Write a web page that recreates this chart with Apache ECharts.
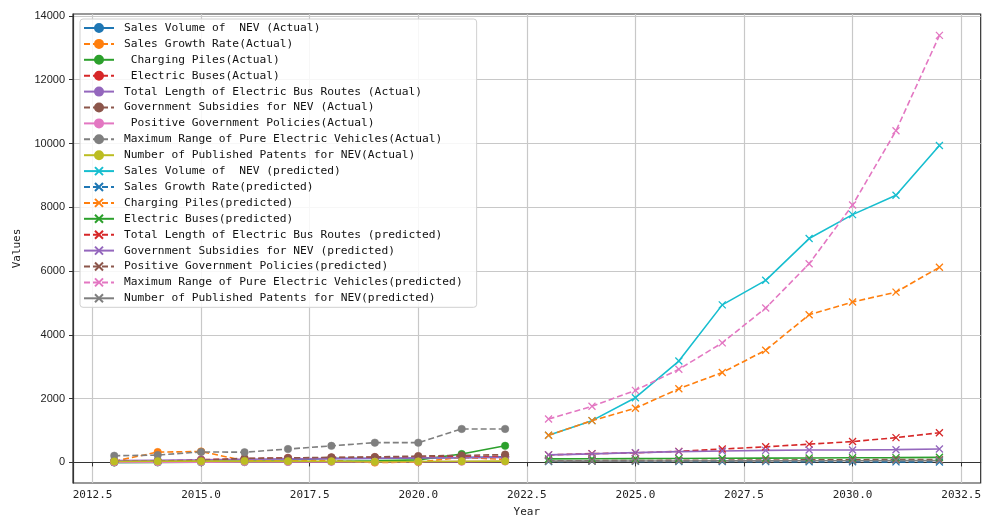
<!DOCTYPE html>
<html>
<head>
<meta charset="utf-8">
<title>NEV indicators: actual and predicted</title>
<script src="https://cdn.jsdelivr.net/npm/echarts@6/dist/echarts.min.js"></script>
<style>
  html, body { margin: 0; padding: 0; background: #ffffff; }
  #chart { width: 984px; height: 523px; }
</style>
</head>
<body>
<div id="chart"></div>
<script>
// Years covered by each half of the chart
const yearsActual = [2013, 2014, 2015, 2016, 2017, 2018, 2019, 2020, 2021, 2022];
const yearsPredicted = [2023, 2024, 2025, 2026, 2027, 2028, 2029, 2030, 2031, 2032];

// Observed indicators, 2013-2022
const salesVolumeActual   = [2, 7, 33, 51, 78, 126, 121, 137, 150, 180];
const salesGrowthActual   = [38, 324, 343, 53, 53, 62, -4, 11, 158, 93];
const chargingPilesActual = [1, 3, 7, 14, 21, 30, 52, 81, 262, 521];
const electricBusesActual = [15, 37, 88, 116, 140, 150, 160, 170, 180, 190];
const busRoutesActual     = [60, 70, 80, 100, 110, 120, 130, 140, 150, 155];
const subsidiesActual     = [30, 40, 60, 130, 140, 160, 170, 200, 220, 245];
const policiesActual      = [5, 8, 10, 12, 15, 18, 20, 22, 25, 28];
const maxRangeActual      = [210, 230, 330, 320, 420, 520, 620, 620, 1050, 1050];
const patentsActual       = [30, 35, 40, 45, 40, 35, 20, 30, 35, 40];

// Forecast indicators, 2023-2032
const salesVolumePredicted   = [850, 1310, 2030, 3180, 4940, 5710, 7020, 7770, 8380, 9940];
const salesGrowthPredicted   = [30, 40, 35, 30, 28, 25, 22, 20, 18, 16];
const chargingPilesPredicted = [850, 1310, 1700, 2310, 2820, 3520, 4630, 5030, 5340, 6120];
const electricBusesPredicted = [110, 115, 120, 125, 130, 135, 140, 145, 150, 160];
const busRoutesPredicted     = [236, 276, 300, 347, 420, 490, 573, 654, 777, 930];
const subsidiesPredicted     = [236, 267, 307, 338, 359, 378, 390, 392, 400, 420];
const policiesPredicted      = [50, 55, 60, 65, 70, 75, 80, 85, 90, 95];
const maxRangePredicted      = [1360, 1760, 2260, 2920, 3750, 4840, 6230, 8070, 10400, 13390];
const patentsPredicted       = [40, 42, 44, 46, 48, 50, 52, 54, 56, 58];

// Tick positions
const xTicks = [2012.5, 2015, 2017.5, 2020, 2022.5, 2025, 2027.5, 2030, 2032.5];
const yTicks = [0, 2000, 4000, 6000, 8000, 10000, 12000, 14000];

// Series names, in legend order
const actualNames = [
  'Sales Volume of  NEV (Actual)',
  'Sales Growth Rate(Actual)',
  ' Charging Piles(Actual)',
  ' Electric Buses(Actual)',
  'Total Length of Electric Bus Routes (Actual)',
  'Government Subsidies for NEV (Actual)',
  ' Positive Government Policies(Actual)',
  'Maximum Range of Pure Electric Vehicles(Actual)',
  'Number of Published Patents for NEV(Actual)'
];
const predictedNames = [
  'Sales Volume of  NEV (predicted)',
  'Sales Growth Rate(predicted)',
  'Charging Piles(predicted)',
  'Electric Buses(predicted)',
  'Total Length of Electric Bus Routes (predicted)',
  'Government Subsidies for NEV (predicted)',
  'Positive Government Policies(predicted)',
  'Maximum Range of Pure Electric Vehicles(predicted)',
  'Number of Published Patents for NEV(predicted)'
];
const actualValues = [salesVolumeActual, salesGrowthActual, chargingPilesActual, electricBusesActual,
  busRoutesActual, subsidiesActual, policiesActual, maxRangeActual, patentsActual];
const predictedValues = [salesVolumePredicted, salesGrowthPredicted, chargingPilesPredicted, electricBusesPredicted,
  busRoutesPredicted, subsidiesPredicted, policiesPredicted, maxRangePredicted, patentsPredicted];

// Colour cycle (tab10)
const palette = ['#1f77b4', '#ff7f0e', '#2ca02c', '#d62728', '#9467bd',
                 '#8c564b', '#e377c2', '#7f7f7f', '#bcbd22', '#17becf'];

// Line style per series: true = dashed
const actualDashed    = [false, true, false, true, false, true, false, true, false];
const predictedDashed = [false, true, true, false, true, false, true, true, false];

const CROSS = 'path://M0,0L10,10M10,0L0,10';
const MONO = '"DejaVu Sans Mono", "Liberation Mono", monospace';

function makeSeries(name, years, values, color, dashed, marker) {
  const isCross = marker === 'cross';
  return {
    name: name,
    type: 'line',
    data: years.map((yr, i) => [yr, values[i]]),
    symbol: isCross ? CROSS : 'circle',
    symbolSize: isCross ? 7 : 7.5,
    showAllSymbol: true,
    lineStyle: { color: color, width: 1.6, type: dashed ? [6, 3] : 'solid' },
    itemStyle: isCross
      ? { color: color, borderColor: color, borderWidth: 1.3 }
      : { color: color, borderColor: color, borderWidth: 0.5 },
    emphasis: { disabled: true },
    animation: false
  };
}

const series = [];
actualNames.forEach((n, i) => {
  series.push(makeSeries(n, yearsActual, actualValues[i], palette[i], actualDashed[i], 'circle'));
});
predictedNames.forEach((n, i) => {
  series.push(makeSeries(n, yearsPredicted, predictedValues[i], palette[(i + 9) % 10], predictedDashed[i], 'cross'));
});

const chart = echarts.init(document.getElementById('chart'), null, { renderer: 'canvas' });
chart.setOption({
  animation: false,
  backgroundColor: '#ffffff',
  grid: {
    left: 73, right: 3, top: 14, bottom: 30,
    show: true, borderColor: '#333333', borderWidth: 1.2, backgroundColor: 'transparent'
  },
  legend: {
    orient: 'vertical',
    left: 80, top: 19,
    itemWidth: 30, itemHeight: 10, itemGap: 3.9,
    padding: [3, 14, 3, 3],
    backgroundColor: 'rgba(255,255,255,0.85)',
    borderColor: '#d0d0d0', borderWidth: 1, borderRadius: 3,
    selectedMode: false,
    textStyle: { fontFamily: MONO, fontSize: 11.25, color: '#111111', lineHeight: 12, padding: [0, 0, 0, 5] },
    data: actualNames.concat(predictedNames)
  },
  xAxis: {
    type: 'value',
    min: 2012.05, max: 2032.95,
    name: 'Year', nameLocation: 'middle', nameGap: 24,
    nameTextStyle: { fontFamily: MONO, fontSize: 11, color: '#222222' },
    axisLine: { show: true, lineStyle: { color: '#333333', width: 1.2 } },
    axisTick: { show: true, inside: false, length: 4, customValues: xTicks, lineStyle: { color: '#333333' } },
    axisLabel: {
      customValues: xTicks, margin: 7,
      fontFamily: MONO, fontSize: 11, color: '#222222',
      formatter: v => Number(v).toFixed(1)
    },
    splitLine: { show: true, lineStyle: { color: '#c8c8c8', width: 1.2 } }
  },
  yAxis: {
    type: 'value',
    min: -645, max: 14061,
    name: 'Values', nameLocation: 'middle', nameGap: 50, nameRotate: 90,
    nameTextStyle: { fontFamily: MONO, fontSize: 11, color: '#222222' },
    axisLine: { show: true, lineStyle: { color: '#333333', width: 1.2 } },
    axisTick: { show: true, inside: false, length: 4, customValues: yTicks, lineStyle: { color: '#333333' } },
    axisLabel: {
      customValues: yTicks, margin: 8,
      fontFamily: '"Liberation Sans", Arial, sans-serif', fontSize: 11, color: '#222222',
      formatter: v => String(Math.round(v))
    },
    splitLine: { show: true, lineStyle: { color: '#c8c8c8', width: 1.2 } }
  },
  series: series
});
</script>
</body>
</html>
